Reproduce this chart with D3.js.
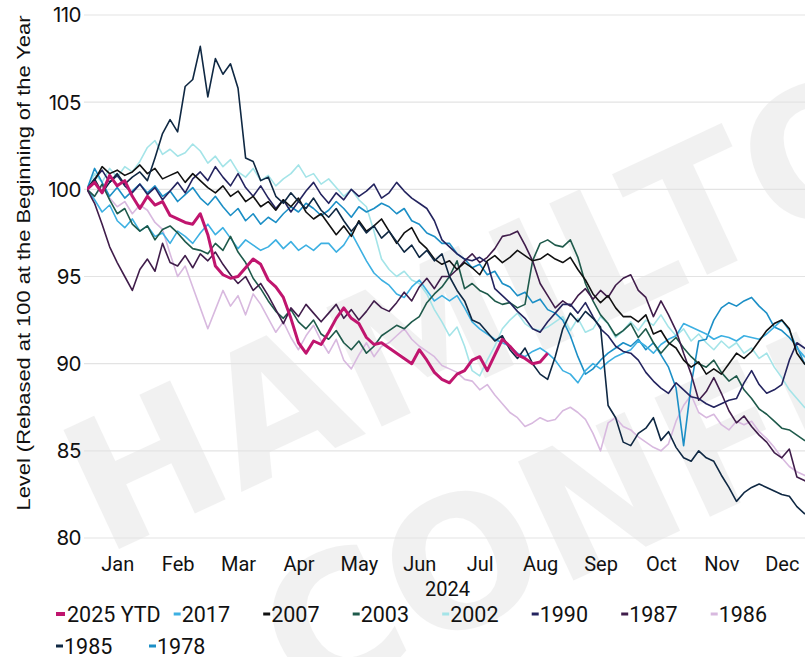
<!DOCTYPE html>
<html>
<head>
<meta charset="utf-8">
<script src="https://cdn.jsdelivr.net/npm/d3@7"></script>
<style>
  body { margin: 0; background: #fff; }
  svg { display: block; }
</style>
</head>
<body>
<div id="chart"></div>
<script>
// month tick labels and y ticks
const months = ["Jan", "Feb", "Mar", "Apr", "May", "Jun", "Jul", "Aug", "Sep", "Oct", "Nov", "Dec"];
const yTicks = [80, 85, 90, 95, 100, 105, 110];
const stepsPerMonth = 8; // values below are read every 1/8 of a month

const seriesNames = ["2025 YTD", "2017", "2007", "2003", "2002", "1990", "1987", "1986", "1985", "1978"];
const seriesColors = ["#c0156e", "#3db0e2", "#111111", "#1f5a4b", "#a4e4e8", "#24245f", "#401d4b", "#d8b9df", "#0f2843", "#1c8fc6"];

const v2025 = [100.0, 100.4, 99.8, 100.8, 100.2, 100.5, 99.6, 98.9,
  99.6, 99.1, 99.3, 98.5, 98.3, 98.1, 98.0, 98.6,
  97.4, 95.6, 95.1, 94.9, 95.0, 95.5, 96.0, 95.7,
  94.8, 94.4, 93.8, 92.6, 91.2, 90.6, 91.3, 91.1,
  91.8, 92.6, 93.2, 92.6, 92.3, 91.5, 91.1, 91.2,
  90.9, 90.6, 90.3, 90.0, 90.8, 90.2, 89.5, 89.1,
  88.9, 89.4, 89.6, 90.2, 90.4, 89.6, 90.5, 91.4,
  91.0, 90.5, 90.3, 90.0, 90.1, 90.6];

const v2017 = [100.0, 99.4, 98.7, 99.1, 98.2, 97.8, 98.3, 97.6,
  97.9, 97.3, 97.5, 96.9, 97.6, 97.3, 96.9, 97.5,
  98.0, 97.4, 97.8, 97.2, 96.6, 97.1, 96.8, 96.5,
  96.7, 97.1, 96.6, 97.0, 96.5, 96.8, 96.5, 96.9,
  96.9, 96.4, 96.8, 97.5, 96.7, 95.9, 95.2, 94.8,
  94.5, 94.0, 93.8, 94.4, 94.8, 94.2, 93.6, 93.9,
  93.6, 93.9, 93.2, 92.4, 92.0, 91.7, 91.4, 91.2,
  91.0, 90.6, 90.4, 90.7, 90.9, 90.6, 90.2, 89.6,
  89.4, 88.9, 89.6, 90.0, 89.7, 90.1, 90.4, 90.6,
  90.8, 91.3, 91.0, 90.6, 91.1, 91.4, 91.6, 92.3,
  92.1, 91.9, 91.7, 91.4, 91.6, 91.5, 91.3, 91.6,
  91.5, 91.4, 91.7, 92.1, 92.5, 91.9, 90.9, 90.4,
  90.2];

const v2007 = [100.0, 100.5, 101.3, 100.9, 101.1, 100.8, 101.0, 101.4,
  100.9, 101.2, 100.6, 100.8, 101.0, 100.4, 100.9, 100.5,
  100.1, 99.8, 100.2, 99.6, 99.9, 99.3, 99.6, 99.0,
  99.3, 98.8, 99.4, 99.0, 99.5, 98.7, 98.3, 98.6,
  98.0, 97.4, 97.9, 97.3, 98.2, 97.6, 97.9, 98.3,
  97.6, 96.9, 97.5, 97.8, 97.0, 96.6, 96.0, 95.7,
  95.9, 95.4, 95.8, 95.5, 95.1, 95.9, 96.2, 95.8,
  96.1, 96.5, 96.2, 95.9, 96.0, 96.3, 96.0, 95.8,
  96.1, 95.4, 94.8, 94.0, 93.5, 93.9, 93.2, 92.7,
  92.7, 92.4, 92.8, 91.7, 91.9, 91.2, 90.9, 90.2,
  89.8, 90.1, 89.4, 89.7, 89.4, 90.0, 90.6, 90.3,
  90.7, 91.3, 91.9, 92.3, 92.5, 92.0, 90.6, 90.0,
  89.6];

const v2003 = [100.0, 99.6, 100.3, 99.4, 98.6, 98.9, 98.0, 97.6,
  97.9, 97.1, 97.7, 97.9, 97.5, 97.0, 96.6, 96.5,
  96.3, 96.9, 96.5, 97.3, 96.4, 95.8, 94.9, 94.3,
  93.6, 93.0, 92.6, 93.1, 92.4, 92.0, 92.5, 91.7,
  91.4, 91.9, 91.2, 90.8, 91.3, 90.6, 91.0, 91.6,
  91.9, 92.2, 92.0, 92.4, 92.7, 93.5, 94.0, 94.4,
  95.0, 95.9, 94.3, 94.6, 94.2, 94.0, 93.6, 93.4,
  93.5, 93.2, 93.4, 95.9, 96.9, 97.1, 96.8, 96.7,
  97.1, 96.1, 94.6, 93.6, 92.8, 92.3, 91.6, 91.9,
  92.3, 91.5, 92.0, 91.2, 90.6, 91.1, 91.5, 90.9,
  90.4, 90.0, 89.8, 90.2, 89.5, 89.0, 89.3, 88.5,
  88.0, 87.4, 87.1, 86.7, 86.3, 86.2, 85.9, 85.6,
  85.4];

const v2002 = [100.0, 100.9, 100.4, 101.2, 100.7, 101.3, 101.0, 101.6,
  102.4, 102.8, 102.0, 102.3, 101.9, 102.1, 102.6, 102.2,
  101.5, 101.9, 101.3, 101.7, 101.0, 100.7, 101.2, 100.5,
  100.8, 100.2, 100.6, 100.9, 101.4, 100.7, 100.9, 100.3,
  100.6, 100.1, 99.6, 100.0, 99.4, 99.0, 97.6, 96.0,
  95.4, 95.0, 95.3, 94.8, 94.6, 94.0, 93.1, 92.4,
  91.6, 92.1, 91.0, 89.6, 89.3, 90.2, 91.0, 92.0,
  92.5, 92.9, 92.3, 92.0, 91.9, 92.1, 92.4, 92.7,
  91.9, 92.6, 91.8, 92.0, 92.7, 92.3, 91.5, 91.9,
  92.4, 91.9, 92.5, 92.2, 92.8, 92.1, 91.6, 92.0,
  91.3, 91.7, 91.2, 90.8, 91.3, 90.9, 91.2, 90.6,
  90.9, 90.3, 90.6, 89.8, 89.2, 88.5, 88.0, 87.5,
  87.2];

const v1990 = [100.0, 100.6, 101.1, 100.4, 100.8, 100.2, 99.8, 100.3,
  99.7, 100.1, 99.4, 99.9, 100.4, 99.8, 100.6, 101.0,
  100.5, 101.3, 100.7, 100.2, 100.9, 100.1, 99.6, 100.2,
  99.5, 98.9, 99.4, 98.7, 99.3, 99.9, 100.4, 99.7,
  99.2, 99.8, 99.4, 100.0, 99.6, 99.9, 100.3, 99.5,
  99.8, 100.4, 99.9, 99.5, 99.2, 98.9, 98.2, 97.1,
  96.7, 96.3, 96.0, 95.9, 96.1, 95.8, 94.3, 93.9,
  93.5, 93.0, 92.6, 92.0, 91.8, 92.4, 92.9, 93.4,
  93.4, 92.9, 93.5, 92.7, 92.0, 91.6, 91.0, 90.7,
  90.6, 90.2, 89.5, 89.0, 88.6, 88.3, 88.9, 88.5,
  88.1, 88.0, 87.7, 87.5, 87.7, 87.9, 88.0, 88.9,
  89.6, 88.8, 88.3, 88.5, 88.8, 90.2, 91.2, 90.9,
  90.6];

const v1987 = [100.0, 99.2, 98.0, 96.7, 95.8, 95.0, 94.2, 95.4,
  96.0, 95.3, 96.9, 95.8, 95.6, 96.2, 95.5, 96.3,
  95.9, 96.4, 95.7, 95.1, 94.6, 95.0, 94.2, 94.6,
  93.9, 93.1, 92.3, 93.2, 92.7, 93.4, 92.9, 92.4,
  92.9, 93.4, 92.6, 93.1, 92.5, 93.0, 93.6, 93.2,
  93.0, 93.5, 94.1, 93.6, 94.4, 94.9, 94.3, 95.0,
  95.0, 95.4, 95.9, 96.3, 95.8, 96.1, 96.6, 97.3,
  97.4, 97.6, 96.8, 95.9, 94.6, 93.9, 93.2, 93.6,
  93.3, 93.9, 94.3, 93.7, 94.2, 93.8, 94.5, 94.9,
  95.1, 94.2, 93.8, 92.7, 93.6, 92.8, 91.9, 90.6,
  89.4, 87.9, 88.4, 89.2, 88.3, 87.3, 86.6, 87.0,
  86.4, 85.9, 85.5, 84.9, 84.6, 85.1, 83.5, 83.3,
  83.0];

const v1986 = [100.0, 99.6, 100.2, 99.5, 99.0, 99.3, 98.6, 99.1,
  98.8, 98.1, 97.7, 96.3, 95.0, 95.6, 94.4, 93.2,
  92.0, 93.1, 94.2, 93.3, 93.9, 92.8, 94.0, 93.4,
  92.6, 91.8, 92.4, 91.5, 90.8, 91.6, 92.2, 91.3,
  90.6, 91.4, 90.2, 89.7, 90.5, 91.2, 90.4, 91.0,
  91.2, 91.6, 92.0, 91.4, 91.0, 90.7, 90.4, 89.9,
  89.7, 89.5, 89.1, 89.0, 88.5, 88.8, 88.2, 87.7,
  87.2, 86.9, 86.4, 86.6, 86.9, 86.7, 86.8, 87.3,
  87.5, 87.2, 86.8, 86.0, 85.0, 86.6, 86.9, 86.4,
  86.2, 85.8, 85.5, 85.2, 85.0, 85.4, 86.7, 87.6,
  88.2, 87.2, 86.9, 87.1, 86.5, 86.2, 86.7, 86.5,
  86.7, 86.1, 85.7, 85.2, 84.6, 84.1, 83.8, 83.6,
  83.4];

const v1985 = [100.0, 100.6, 99.8, 100.4, 100.9, 100.3, 100.7, 101.0,
  100.5, 101.8, 103.2, 104.0, 103.3, 105.9, 106.3, 108.2,
  105.3, 107.5, 106.6, 107.2, 105.8, 101.8, 101.6, 100.5,
  100.7, 99.6, 99.2, 99.8, 99.3, 98.9, 99.5, 98.8,
  98.4, 98.9, 98.2, 97.6, 98.1, 97.5, 97.9, 97.2,
  97.6, 97.0, 96.4, 96.8, 96.1, 96.5, 95.9, 96.3,
  95.0, 94.2, 93.6, 92.5, 92.3, 91.8, 91.3, 91.6,
  90.8, 90.3, 90.9, 90.0, 89.4, 89.1, 90.4, 92.0,
  92.9, 92.4, 93.0, 92.6, 92.1, 87.6, 86.9, 85.5,
  85.3, 86.0, 86.3, 86.9, 85.6, 86.1, 85.2, 84.6,
  84.4, 85.0, 84.6, 84.4, 83.6, 82.9, 82.1, 82.6,
  82.9, 83.1, 82.9, 82.7, 82.5, 82.4, 81.8, 81.4,
  81.2];

const v1978 = [100.0, 101.2, 100.4, 99.6, 100.1, 99.5, 99.9, 100.3,
  99.8, 100.2, 99.6, 99.9, 99.3, 99.7, 100.1, 99.5,
  99.1, 99.6, 99.0, 98.5, 98.9, 98.2, 98.6, 98.0,
  98.4, 98.1, 98.6, 99.0, 98.7, 99.2, 98.9, 98.5,
  98.8, 99.3, 98.9, 98.4, 99.0, 98.7, 98.9, 99.2,
  99.0, 98.6, 98.9, 98.2, 98.0, 97.5, 97.3, 96.9,
  96.9, 96.3, 96.0, 95.5, 95.7, 95.1, 95.3, 94.6,
  94.4, 93.9, 94.1, 93.5, 93.7, 93.1, 92.9, 92.5,
  91.6, 90.4, 89.4, 89.7, 90.2, 90.6, 90.9, 91.2,
  91.0, 91.4, 90.8, 91.2, 90.5, 89.8, 88.6, 85.3,
  88.8, 91.3, 91.4, 92.5, 93.2, 93.5, 93.3, 93.6,
  93.8, 93.3, 92.9, 92.1, 91.9, 91.5, 91.0, 90.0,
  89.8];

const seriesValues = [v2025, v2017, v2007, v2003, v2002, v1990, v1987, v1986, v1985, v1978];

const W = 805, H = 657;
const svg = d3.select("#chart").append("svg").attr("width", W).attr("height", H);

const x = d3.scaleLinear().domain([0, 12]).range([87, 812]);
const y = d3.scaleLinear().domain([80, 110]).range([538, 15]);

// watermark
const wm = svg.append("g")
    .attr("fill", "#000").attr("opacity", 0.05)
    .style("font-family", "DejaVu Sans, sans-serif")
    .style("font-weight", "bold").style("font-size", "180px");
wm.append("text").attr("transform", "translate(104,556) rotate(-25)").text("HAMILTON LANE");
wm.append("text").attr("transform", "translate(300,708) rotate(-25)").text("CONFIDENTIAL");

// gridlines + y labels
const grid = svg.append("g");
grid.selectAll("line").data(yTicks).join("line")
    .attr("x1", 84).attr("x2", W)
    .attr("y1", d => y(d)).attr("y2", d => y(d))
    .attr("stroke", "#e3e3e3").attr("stroke-width", 1.2);
grid.selectAll("text").data(yTicks).join("text")
    .attr("x", 81).attr("y", d => y(d)).attr("dy", "0.36em")
    .attr("text-anchor", "end")
    .style("font-family", "Inter, Liberation Sans, sans-serif").style("font-size", "20.5px")
    .style("letter-spacing", "-0.5px")
    .attr("fill", "#111")
    .text(d => d);

// y title
svg.append("text")
    .attr("transform", "translate(29.5,263) rotate(-90)")
    .attr("text-anchor", "middle")
    .attr("textLength", 495).attr("lengthAdjust", "spacingAndGlyphs")
    .style("font-family", "Liberation Sans, Arial, sans-serif").style("font-size", "18.5px")
    .attr("fill", "#111")
    .text("Level (Rebased at 100 at the Beginning of the Year");

// x axis: month labels centred in each month
const xAxis = d3.axisBottom(x)
    .tickValues(d3.range(12).map(i => i + 0.5))
    .tickFormat((d, i) => months[i])
    .tickSize(0).tickPadding(0);
const gx = svg.append("g").attr("transform", "translate(0,556)").call(xAxis);
gx.select(".domain").remove();
gx.selectAll("text")
    .attr("dy", "0.75em")
    .style("font-family", "Roboto, sans-serif").style("font-size", "20px").attr("fill", "#111");

svg.append("text")
    .attr("x", (x(0) + x(12)) / 2 - 2).attr("y", 596)
    .attr("text-anchor", "middle")
    .style("font-family", "Roboto, sans-serif").style("font-size", "20px").attr("fill", "#111")
    .text("2024");

// lines
svg.append("clipPath").attr("id", "plot").append("rect")
    .attr("x", x(0)).attr("y", 0).attr("width", W - x(0)).attr("height", 545);

const line = d3.line()
    .x((d, i) => x(i / stepsPerMonth))
    .y(d => y(d));

const drawOrder = [7, 4, 9, 1, 3, 6, 5, 2, 8, 0];
svg.append("g").attr("clip-path", "url(#plot)")
  .selectAll("path").data(drawOrder).join("path")
    .attr("d", i => line(seriesValues[i]))
    .attr("fill", "none")
    .attr("stroke", i => seriesColors[i])
    .attr("stroke-width", i => i === 0 ? 3 : 1.6)
    .attr("stroke-linejoin", "round");

// legend
const legend = svg.append("g")
    .style("font-family", "Roboto, sans-serif").style("font-size", "21.5px");
let lx = 56, row = 0;
seriesNames.forEach((name, i) => {
  if (i === 8) { lx = 56; row = 1; }
  const ly = row === 0 ? 614 : 646;
  const g = legend.append("g").attr("transform", `translate(${lx},${ly})`);
  g.append("rect").attr("x", 0).attr("y", i === 0 ? -2 : -1.5).attr("width", i === 0 ? 9 : 7).attr("height", i === 0 ? 4 : 3)
      .attr("fill", seriesColors[i]);
  const t = g.append("text").attr("x", i === 0 ? 11 : 8).attr("dy", "0.36em").attr("fill", "#111").text(name);
  const tw = t.node().getComputedTextLength();
  lx += Math.max(row === 0 ? 89.5 : 93, tw + 24);
});
</script>
</body>
</html>
